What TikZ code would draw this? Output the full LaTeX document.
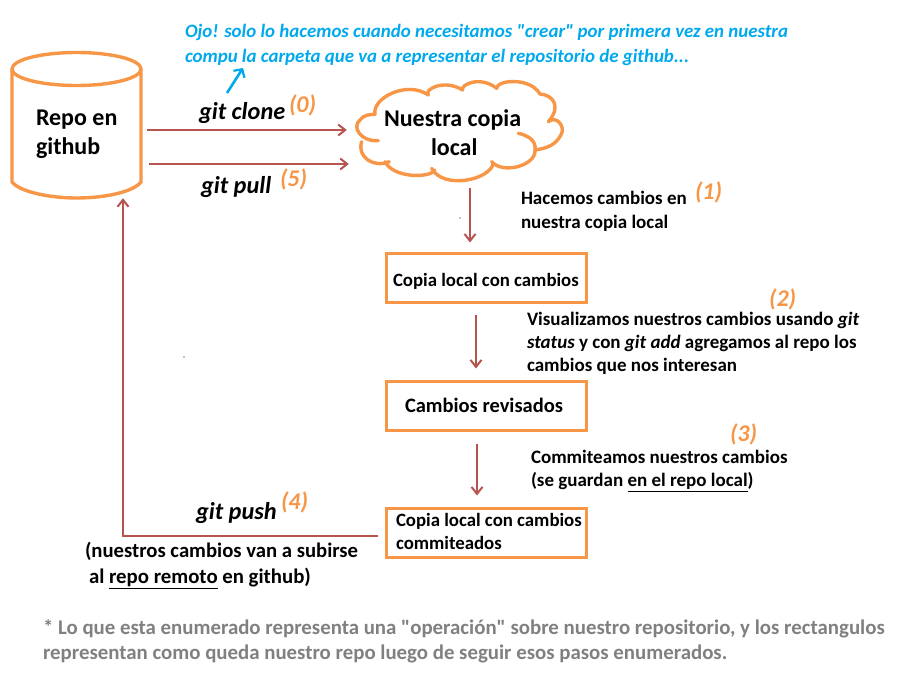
\documentclass[tikz,border=0pt]{standalone}
\usepackage{fontspec}
\setmainfont{Carlito}[Ligatures=TeXOff]
\usetikzlibrary{arrows.meta,calc}
\definecolor{oran}{HTML}{F79646}
\definecolor{redd}{HTML}{B85450}
\definecolor{blu}{HTML}{00A8EC}
\definecolor{gry}{HTML}{808080}
\newcommand{\ul}[1]{\underline{#1}}
\tikzset{
  lbl/.style={anchor=base west,inner sep=0pt,outer sep=0pt,yshift=-0.8pt,font=\fontsize{18.8}{22}\selectfont\bfseries,text=black},
  big/.style={lbl,font=\fontsize{24}{28}\selectfont\bfseries},
  cmd/.style={lbl,font=\fontsize{24.3}{28}\selectfont\bfseries\itshape},
  num/.style={lbl,font=\fontsize{24}{28}\selectfont\bfseries\itshape,text=oran},
  note/.style={lbl,font=\fontsize{18.9}{22}\selectfont\bfseries\itshape,text=blu},
  foot/.style={lbl,font=\fontsize{20.85}{24}\selectfont\bfseries,text=gry},
  statebox/.style={draw=oran,line width=3pt,minimum height=49pt,minimum width=200pt,inner sep=0pt,align=left},
  flow/.style={draw=redd,line width=2.2pt,-{Straight Barb[length=7pt,width=11pt,line width=2pt]}},
  outl/.style={draw=oran,line width=3.4pt,line cap=round,line join=round}
}
\begin{document}
\begin{tikzpicture}[x=1pt,y=-1pt]
\useasboundingbox (0,0) rectangle (912,683);
% cylinder
\draw[outl] (12,69) arc[start angle=180,end angle=540,x radius=64.5,y radius=16.5];
\draw[outl] (12,69) -- (12,182) .. controls (20,192) and (50,198) .. (76.5,198) .. controls (105,198) and (133,192) .. (141,182) -- (141,69);
\node[minimum width=129pt,minimum height=145pt,inner sep=0pt] (cyl) at (76.5,125.5) {};
% cloud
\begin{scope}[shift={(340,70)},x=0.3333pt,y=-0.3333pt]
\draw[outl] (115,212) .. controls (60,215) and (35,170) .. (60,150) .. controls (70,135) and (90,133) .. (105,133)
 .. controls (95,85) and (200,30) .. (265,75)
 .. controls (250,60) and (310,25) .. (368,60)
 .. controls (360,45) and (420,15) .. (470,55)
 .. controls (470,30) and (570,20) .. (600,72)
 .. controls (640,75) and (665,110) .. (625,155)
 .. controls (650,135) and (675,170) .. (665,190) .. controls (650,225) and (620,235) .. (585,240)
 .. controls (590,210) and (560,195) .. (535,190);
\draw[outl] (585,240) .. controls (590,285) and (490,315) .. (455,275);
\draw[outl] (460,280) .. controls (450,330) and (310,360) .. (275,295);
\draw[outl] (285,300) .. controls (270,325) and (160,325) .. (135,275);
\draw[outl] (148,275) .. controls (100,295) and (50,260) .. (65,215);
\end{scope}
\node[minimum width=200pt,minimum height=102pt,inner sep=0pt] (cloud) at (462,131) {};
% boxes
\node[statebox] (b1) at (486,277.5) {};
\node[statebox] (b2) at (486,405.5) {};
\node[statebox] (b3) at (486,532.5) {};
% flows
\draw[flow] ($(cyl.east)+(6,4.5)$) coordinate (c1) -- ($(cloud.west)+(-15,-1)$);
\draw[flow] ($(cyl.east)+(8,38.5)$) -- ($(cloud.west)+(-13,33)$);
\draw[flow] ($(cloud.south)+(8,6)$) -- ($(b1.north)+(-16,-9)$);
\draw[flow] ($(b1.south)+(-10,11)$) -- ($(b2.north)+(-10,-11)$);
\draw[flow] ($(b2.south)+(-9,12)$) -- ($(b3.north)+(-9,-11)$);
\draw[flow] ($(b3.west)+(-7,3.5)$) -| ($(cyl.south)+(46.5,0)$);
% texts
\node[big] (t1) at (36,125) {Repo en};
\node[big] (t2) at (36,154) {github};
\node[big] (t3) at (384,126) {Nuestra copia};
\node[big] (t4) at (431,155) {local};
\node[lbl] (t5) at (393,286) {Copia local con cambios};
\node[lbl,font=\fontsize{20.5}{24}\selectfont\bfseries] (t6) at (405,412) {Cambios revisados};
\node[lbl] (t7) at (396,526) {Copia local con cambios};
\node[lbl] (t8) at (396,549) {commiteados};
\node[cmd] (g1) at (199,119) {git clone};
\node[num] (n0) at (289,112) {(0)};
\node[cmd] (g2) at (201,193) {git pull};
\node[num] (n5) at (280,186) {(5)};
\node[cmd] (g3) at (196,519) {git push};
\node[num] (n4) at (281,509) {(4)};
\node[lbl,font=\fontsize{19}{22}\selectfont\bfseries] (h1) at (521,204) {Hacemos cambios en};
\node[lbl,font=\fontsize{19}{22}\selectfont\bfseries] (h2) at (521,228) {nuestra copia local};
\node[num] (n1) at (695,199) {(1)};
\node[num] (n2) at (769,306) {(2)};
\node[lbl,font=\fontsize{19}{22}\selectfont\bfseries] (v1) at (527,325) {Visualizamos nuestros cambios usando \textit{git}};
\node[lbl,font=\fontsize{19}{22}\selectfont\bfseries] (v2) at (527,348) {\textit{status} y con \textit{git add} agregamos al repo los};
\node[lbl,font=\fontsize{19}{22}\selectfont\bfseries] (v3) at (527,371) {cambios que nos interesan};
\node[num] (n3) at (730,441) {(3)};
\node[lbl,font=\fontsize{19}{22}\selectfont\bfseries] (m1) at (531,463) {Commiteamos nuestros cambios};
\node[lbl,font=\fontsize{19}{22}\selectfont\bfseries] (m2) at (531,486) {(se guardan \ul{en el repo local})};
\node[lbl,font=\fontsize{20.7}{24}\selectfont\bfseries] (p1) at (85,557) {(nuestros cambios van a subirse};
\node[lbl,font=\fontsize{20.8}{24}\selectfont\bfseries] (p2) at (89,583) {al \ul{repo remoto} en github)};
\node[note] (o1) at (185,37) {Ojo! solo lo hacemos cuando necesitamos "crear" por primera vez en nuestra};
\node[note] (o2) at (185,62) {compu la carpeta que va a representar el repositorio de github...};
\node[foot] (f1) at (43,634) {* Lo que esta enumerado representa una "operación" sobre nuestro repositorio, y los rectangulos};
\node[foot] (f2) at (43,659) {representan como queda nuestro repo luego de seguir esos pasos enumerados.};
% blue pointer
\coordinate (pa) at (227,93);
\coordinate (pb) at (243,68);
\draw[draw=blu,line width=2.6pt,-{Straight Barb[length=6pt,width=13pt,line width=2.2pt]}] (pa) -- (pb);
% specks
\fill (460,218) circle (0.7pt);
\fill (184,357) circle (0.7pt);
\end{tikzpicture}
\end{document}
